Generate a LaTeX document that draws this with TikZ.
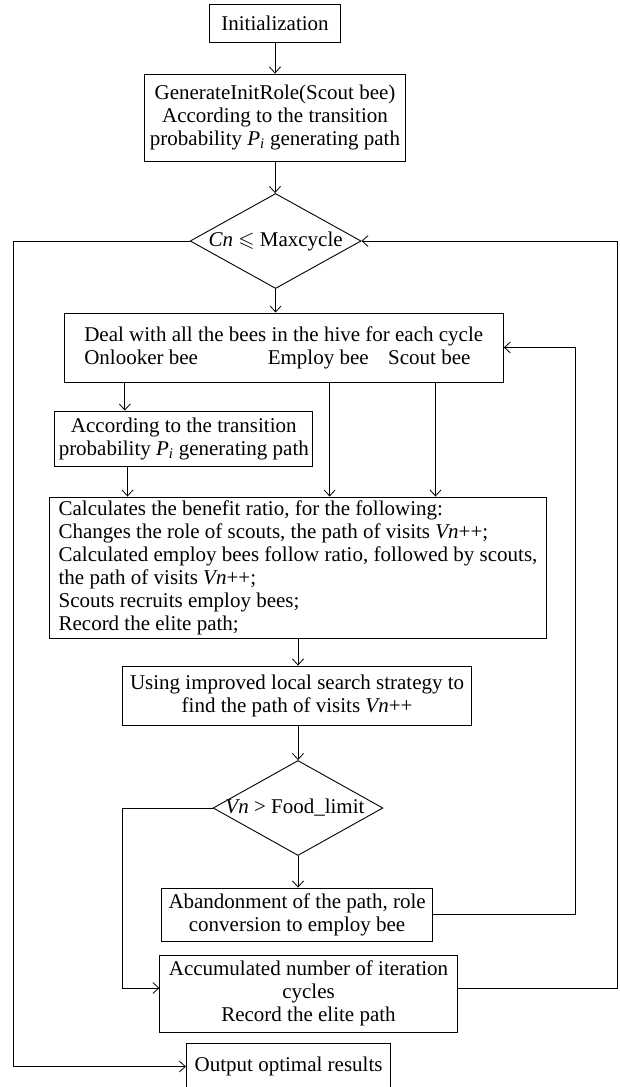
\documentclass[tikz,border=0pt]{standalone}
\usepackage{fontspec}
\setmainfont{Liberation Serif}
\usepackage{amssymb}
\usetikzlibrary{arrows.meta,shapes.geometric,calc}
\begin{document}
\begin{tikzpicture}[x=1pt,y=-1pt,
  txt/.style={font=\fontsize{21}{23}\selectfont},
  box/.style={txt,draw,line width=0.9pt,inner sep=0pt,align=center},
  dia/.style={txt,draw,diamond,line width=0.9pt,inner sep=0pt},
  arr/.style={line width=0.8pt,-{Straight Barb[length=6pt,width=11pt]}},
  ln/.style={line width=0.8pt}]
\useasboundingbox (0,0) rectangle (619,1087);
\fill[white] (0,0) rectangle (619,1087);

\node[box,minimum width=131.5pt,minimum height=38pt] (init) at (275,23) {Initialization};
\node[box,minimum width=261.7pt,minimum height=87pt] (gen) at (275,117.5)
  {GenerateInitRole(Scout bee)\\According to the transition\\probability \textit{P}\textsubscript{\textit{i}} generating path};
\node[dia,minimum width=171pt,minimum height=95pt] (d1) at (275.6,241)
  {\makebox[0pt]{\textit{Cn} $\leqslant$ Maxcycle}};
\node[box,align=left,minimum width=439.4pt,minimum height=69pt] (deal) at (283.7,347.5)
  {Deal with all the bees in the hive for each cycle\\\makebox[183.5pt][l]{Onlooker bee}\makebox[120.4pt][l]{Employ bee}Scout bee};
\node[box,minimum width=257.8pt,minimum height=55pt] (acc1) at (183.8,438.5)
  {According to the transition\\probability \textit{P}\textsubscript{\textit{i}} generating path};
\node[box,align=left,minimum width=497.5pt,minimum height=141pt] (calc) at (298,567.5)
  {Calculates the benefit ratio, for the following:\\
   Changes the role of scouts, the path of visits \textit{Vn}++;\\
   Calculated employ bees follow ratio, followed by scouts,\\
   the path of visits \textit{Vn}++;\\
   Scouts recruits employ bees;\\
   Record the elite path;};
\node[box,minimum width=349.4pt,minimum height=59pt] (using) at (297.1,695.5)
  {Using improved local search strategy to\\find the path of visits \textit{Vn}++};
\node[dia,minimum width=169.8pt,minimum height=95pt] (d2) at (298,808)
  {\makebox[0pt]{\textit{Vn} > Food\_limit\hspace{6pt}}};
\node[box,minimum width=270.4pt,minimum height=53pt] (aband) at (297.1,914.5)
  {Abandonment of the path, role\\conversion to employ bee};
\node[box,minimum width=297.3pt,minimum height=77pt] (accum) at (308.5,993.5)
  {Accumulated number of iteration\\cycles\\Record the elite path};
\node[box,minimum width=204.5pt,minimum height=47pt] (out) at (288.6,1066.5)
  {Output optimal results};

\coordinate (L) at (13,0);
\coordinate (R) at (617,0);
\coordinate (R2) at (575.6,0);
\coordinate (L2) at (122.8,0);
\coordinate (xa) at (124.8,0);
\coordinate (xb) at (127.5,0);
\coordinate (xc) at (329.6,0);
\coordinate (xd) at (435.5,0);
\coordinate (xm) at (298,0);
\coordinate (ay) at (0,988);

\draw[arr] (init.south) -- (gen.north);
\draw[arr] (gen.south) -- (gen.south |- d1.north);
\draw[arr] (d1.south) -- (d1.south |- deal.north);
\draw[arr] (xa |- deal.south) -- (xa |- acc1.north);
\draw[arr] (xb |- acc1.south) -- (xb |- calc.north);
\draw[arr] (xc |- deal.south) -- (xc |- calc.north);
\draw[arr] (xd |- deal.south) -- (xd |- calc.north);
\draw[arr] (xm |- calc.south) -- (xm |- using.north);
\draw[arr] (xm |- using.south) -- (d2.north);
\draw[arr] (d2.south) -- (xm |- aband.north);
\draw[arr] (d2.west) -| (L2 |- ay) -- (accum.west |- ay);
\draw[arr] (aband.east) -| (R2 |- deal.east) -- (deal.east);
\draw[arr] (accum.east |- ay) -| (R |- d1.east) -- (d1.east);
\draw[arr] (d1.west) -| (L |- out.west) -- (out.west);
\end{tikzpicture}
\end{document}
